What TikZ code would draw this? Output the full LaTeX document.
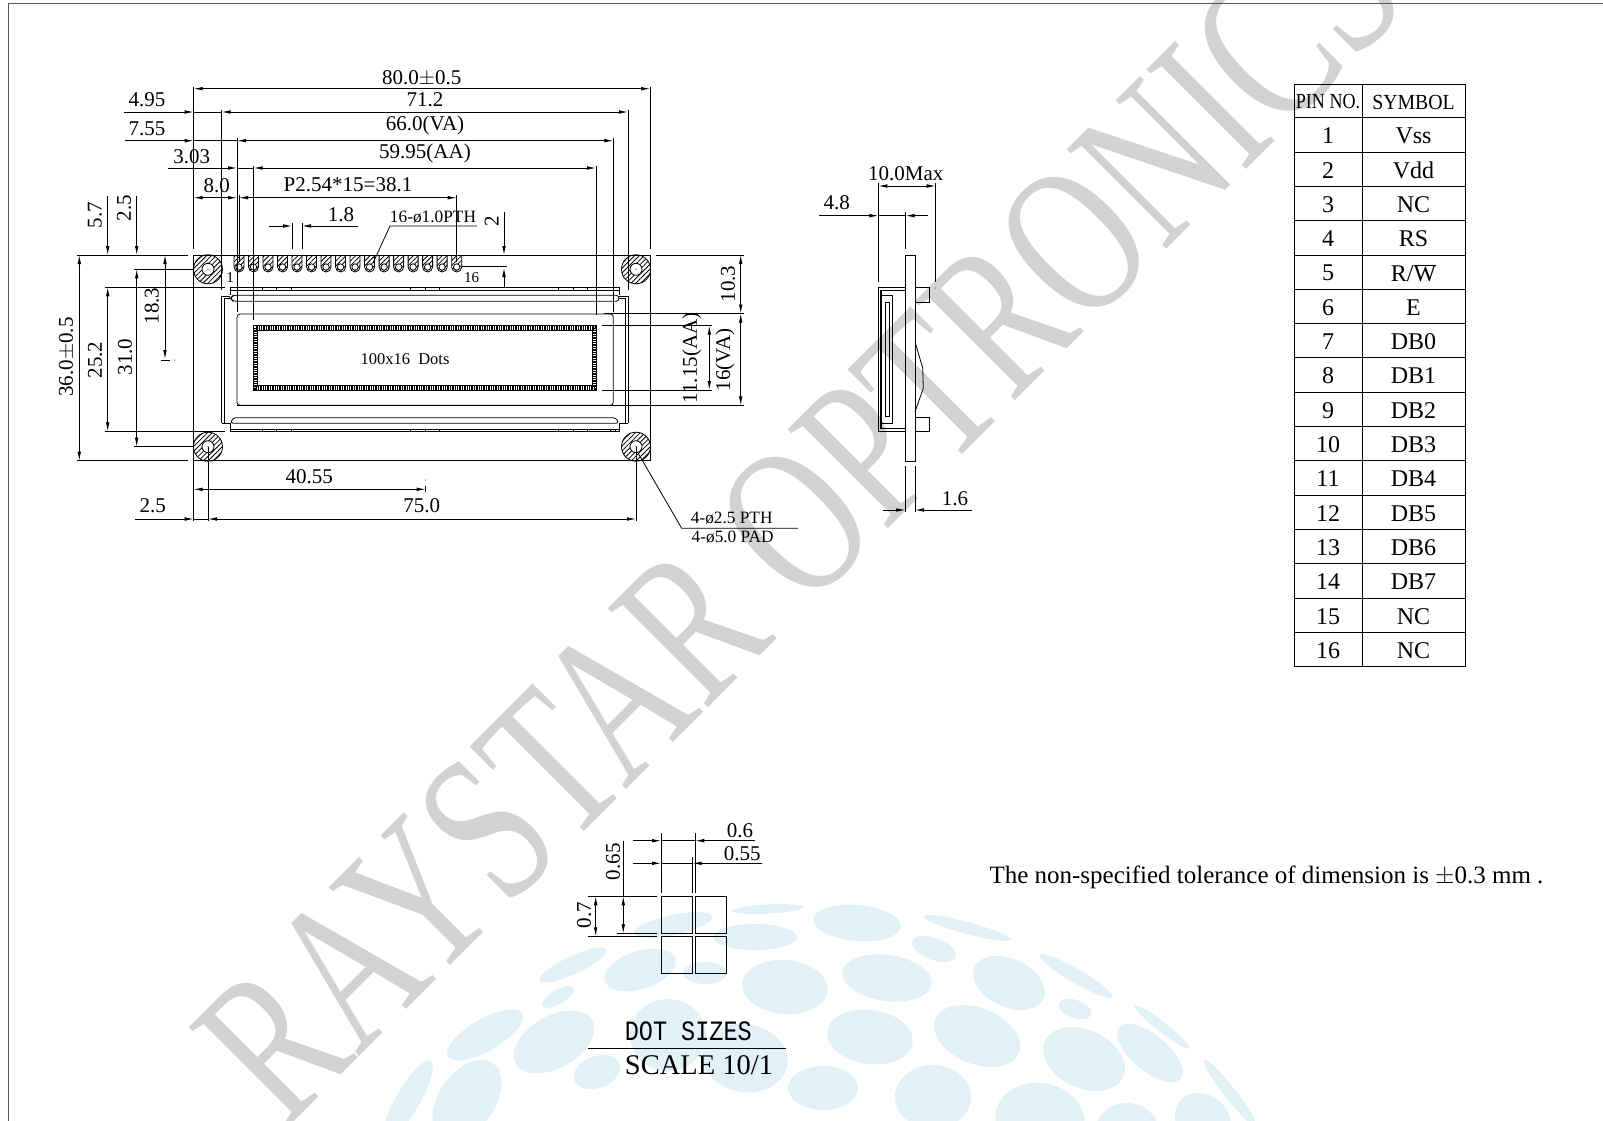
\documentclass[tikz,border=0pt]{standalone}
\usepackage{fontspec}
\setmainfont{Liberation Serif}
\newfontfamily\dotfont{Liberation Mono}
\usetikzlibrary{arrows.meta,patterns.meta,calc}
\definecolor{globeblue}{HTML}{E2F0F7}
\definecolor{markgray}{HTML}{D2D2D2}
\newcommand{\globespot}[5]{\fill[globeblue,shift={(#1,#2)},rotate=#5] (0,0) ellipse (#3 and #4);}

\begin{document}
\begin{tikzpicture}[x=1pt,y=-1pt,line width=.8pt,
    arr/.style={-{Latex[length=9pt,width=3.6pt]}},
    arrs/.style={{Latex[length=9pt,width=3.6pt]}-{Latex[length=9pt,width=3.6pt]}},
    lbl/.style={inner sep=0pt,font=\fontsize{21}{21}\selectfont},
    small/.style={inner sep=0pt,font=\fontsize{17.3}{18}\selectfont},
    cell/.style={inner sep=0pt,font=\fontsize{24}{24}\selectfont},
    hatch/.style={pattern={Lines[angle=45,distance=3.4pt,line width=.8pt]}}]
\useasboundingbox (0,0) rectangle (1603,1121);
% Globe
\foreach \gx/\gy/\grx/\gry/\gang in {768/909/36/4.5/3,755/937/42/13/0,673/925/40/10/12,573/965/37/9/25,
  640/970/37/19/18,705/973/22/11/0,785/987/43/27/-5,558/997/18/7/30,485/1035/43/16/30,554/1042/44/26/30,
  668/1035/38/36/0,745/1058/43/34/-10,597/1072/24/16/20,408/1100/45/12/60,467/1100/45/28/55,823/1088/35/22/0,
  870/1037/43/27/-8,857/923/44/18/-5,967/928/45/6/-15,934/949/23/11/-20,887/978/45/23/-8,1009/983/38/24/-25,
  1076/976/42/7/-30,1075/1009/17/9/-20,977/1036/45/28/-22,1084/1059/43/29/-25,1150/1053/40/18/-40,
  1162/1027/35/5/-38,1230/1093/42/6/-52,933/1097/38/32/0,1040/1120/45/37/-10,1127/1133/32/30/0,1203/1120/30/25/-40}
  {\globespot{\gx}{\gy}{\grx}{\gry}{\gang}}
% Watermark
\node[inner sep=0pt,text=markgray,rotate=45,font=\fontsize{215}{215}\selectfont] (mark) at (800,517)
  {\scalebox{.72}[1]{RAYSTAR OPTRONICS}};
% Frame
\draw[gray!70!black] (1603,3.5) -- (8,3.5) -- (8,1121);

% Board
\draw (193.7,255) rectangle (650,460.7);
\draw (77,255) -- (188,255) (655.7,255) -- (744,255);
\draw (77,460.7) -- (188,460.7);
% Mounting holes
\foreach \hx/\hy in {208/269.3,636/269.3,208/446.7,636/446.7}{
  \draw[hatch] (\hx,\hy) circle (14.5);
  \fill[white] (\hx,\hy) circle (6);
  \draw (\hx,\hy) circle (6);
  \fill (\hx,\hy) circle (.6);
}
% Pins
\foreach \i in {0,...,15}{
  \pgfmathsetmacro{\px}{239+14.51*\i}
  \draw[hatch] (\px-5,255.5) -- (\px+5,255.5) -- (\px+5,267) arc (0:180:5) -- cycle;
  \fill[white] (\px,267) circle (3.2);
  \draw (\px,267) circle (3.2);
}
% Bezels
\draw (221.7,423.3) -- (221.7,296) -- (231.7,296) (224.3,423.3) -- (224.3,298.5) -- (231.7,298.5);
\draw (628,423.3) -- (628,296) -- (618,296) (625,423.3) -- (625,298.5) -- (618,298.5);
\draw (221.7,423.3) -- (231,423.3) (618,423.3) -- (628,423.3);
\fill[white] (230.3,287.3) rectangle (619,301.3);
\fill[white] (230.3,417.7) rectangle (619,431.7);
\draw (230.3,295.3) -- (230.3,287.3) -- (619,287.3) -- (619,295.3);
\draw (230.3,290) -- (619,290);
\draw[rounded corners=3pt] (233,295.3) -- (619,295.3) -- (619,301.3) -- (233,301.3) -- (230.3,298.3) -- cycle;
\draw (230.3,423.3) -- (230.3,431.7) -- (619,431.7) -- (619,423.3);
\draw (230.3,429) -- (619,429);
\draw[rounded corners=3pt] (233,417.7) -- (616,417.7) -- (619,423.3) -- (230.3,423.3) -- cycle;
\foreach \tx in {262,276.7,291,410.7,425,439.3,558,573,587.7}{
  \draw (\tx,287.3) -- (\tx,290) (\tx,429) -- (\tx,431.7);
}
\draw (610,429) -- (610,431.7) (615,429) -- (615,431.7);
% VA and AA
\draw[rounded corners=3pt] (237,314) rectangle (613.3,405.3);
\draw[line width=4pt,dash pattern=on 1.4pt off 1pt] (255.5,327.8) rectangle (594.7,388);
\draw[line width=.7pt] (253.3,325.7) rectangle (596.7,390) (257.8,330) rectangle (592.3,385.8);
\node[small,font=\fontsize{16.5}{17}\selectfont] (dots) at (405,359) {100x16\ \ Dots};
\node[inner sep=0pt,font=\fontsize{15}{15}\selectfont] (pinA) at (230,277.7) {1};
\node[inner sep=0pt,font=\fontsize{15}{15}\selectfont] (pinP) at (471.7,277.7) {16};

% Extension lines, top
\draw (193.7,86.7) -- (193.7,249.3) (650,86.7) -- (650,249.3);
\draw (221.7,110) -- (221.7,290) (628,110) -- (628,290);
\draw (237,138) -- (237,312) (613.3,138) -- (613.3,312);
\draw (253.7,166) -- (253.7,320) (596,166) -- (596,315);
\draw (239,195) -- (239,262) (456.7,195) -- (456.7,262);
\draw (292,223) -- (292,249) (302,223) -- (302,249);
% Dimensions, top
\draw[arrs] (193.7,88.7) -- (650,88.7);
\draw[arr] (124,112) -- (193.7,112);
\draw (193.7,112) -- (221.7,112);
\draw[arrs] (221.7,112) -- (628,112);
\draw[arr] (125,140.7) -- (193.7,140.7);
\draw (193.7,140.7) -- (237,140.7);
\draw[arrs] (237,140.7) -- (613.3,140.7);
\draw[arr] (168,168) -- (237,168);
\draw (237,168) -- (253.7,168);
\draw[arrs] (253.7,168) -- (596,168);
\draw[arrs] (193.7,197.7) -- (237,197.7);
\draw[arrs] (239,197.7) -- (456.7,197.7);
\draw[arr] (269,226) -- (292,226);
\draw[arr] (358,226) -- (302,226);
\node[lbl] (wide) at (421.7,78) {80.0$\pm$0.5};
\node[lbl] (pcbw) at (425,100) {71.2};
\node[lbl] (vaw) at (425,125) {66.0(VA)};
\node[lbl] (aaw) at (425,153.7) {59.95(AA)};
\node[lbl] (pitch) at (348,185) {P2.54*15=38.1};
\node[lbl] (offa) at (147,100) {4.95};
\node[lbl] (offb) at (147,129) {7.55};
\node[lbl] (offc) at (191.7,156.7) {3.03};
\node[lbl] (offd) at (216.7,186) {8.0};
\node[lbl] (pinw) at (341,215) {1.8};
% Pin hole leader
\draw (373,263) -- (390,226) -- (477,226);
\node[small] (pth) at (433,217) {16-ø1.0PTH};
% Pin to edge
\draw[arr] (504,211.7) -- (504,255);
\draw[arr] (504,288) -- (504,268);
\draw (461.7,266.7) -- (506.7,266.7);
\node[lbl,rotate=90] (edge) at (491.7,221) {2};

% Dimensions, left
\draw[arr] (107.7,196) -- (107.7,255);
\draw[arr] (136.7,196) -- (136.7,255);
\draw (105,287.3) -- (225,287.3) (105,431.3) -- (225,431.3);
\draw (134,269.3) -- (193.7,269.3) (134,446.7) -- (193.7,446.7);
\draw[arrs] (79.3,255) -- (79.3,460.7);
\draw[arrs] (107.7,287.3) -- (107.7,431.3);
\draw[arrs] (136.7,269.3) -- (136.7,446.7);
\draw[arrs] (165,255) -- (165,359);
\draw (161,360) -- (170,360);
\fill (174.7,360) circle (.5);
\node[lbl,rotate=90] (high) at (66.7,357) {36.0$\pm$0.5};
\node[lbl,rotate=90] (holeh) at (95,360) {25.2};
\node[lbl,rotate=90] (pcbh) at (125,357) {31.0};
\node[lbl,rotate=90] (topa) at (95,215) {5.7};
\node[lbl,rotate=90] (topb) at (124,208) {2.5};
\node[lbl,rotate=90] (topc) at (151.7,306) {18.3};

% Dimensions, right
\draw (604,313.5) -- (744,313.5) (237,405.3) -- (744,405.3);
\draw (602,325.7) -- (711.7,325.7) (602,390) -- (711.7,390);
\draw[arrs] (740.7,255) -- (740.7,313.5);
\draw[arrs] (740.7,313.5) -- (740.7,405.3);
\draw[arrs] (709.3,325.7) -- (709.3,390);
\node[lbl,rotate=90] (topv) at (728,284) {10.3};
\node[lbl,rotate=90] (aah) at (691.7,358) {11.15(AA)};
\node[lbl,rotate=90] (vah) at (725,360) {16(VA)};

% Dimensions, bottom
\draw (193.7,460.7) -- (193.7,521) (208,446.7) -- (208,521) (636,446.7) -- (636,521);
\draw[arrs] (193.7,489.3) -- (425.7,489.3);
\draw (425.7,486) -- (425.7,492);
\fill (425.7,480) circle (.5);
\draw[arr] (135,519) -- (193.7,519);
\draw (193.7,519) -- (208,519);
\draw[arrs] (208,519) -- (636,519);
\node[lbl] (cen) at (309.3,477) {40.55};
\node[lbl] (marg) at (152.7,506) {2.5};
\node[lbl] (hole) at (421.7,506) {75.0};
% Hole leader
\draw (638,453) -- (681.7,528.3) -- (798,528.3);
\node[small] (ptha) at (731.7,518) {4-ø2.5 PTH};
\node[small] (pad) at (732.7,537.5) {4-ø5.0 PAD};

% Side view
\draw (905.3,255.3) rectangle (915,461);
\draw (915,287.7) -- (929.3,287.7) -- (929.3,302.3) -- (915,302.3);
\draw (915,417.3) -- (929.3,417.3) -- (929.3,431.7) -- (915,431.7);
\draw (905.3,287.5) -- (878.7,287.5) -- (878.7,431.7) -- (905.3,431.7);
\draw (905.3,290.3) -- (880.7,290.3) -- (880.7,428.3) -- (905.3,428.3);
\draw (881.7,295.7) rectangle (892.7,423.3);
\draw (881.7,290.5) -- (881.7,428);
\draw (885.3,302.7) rectangle (889.7,416);
\draw (915,341.7) -- (922.7,368) -- (923.3,388.3) -- (915,411.7);
\draw (878.3,183) -- (878.3,282.3) (935.7,183) -- (935.7,281.7);
\draw (905.7,212) -- (905.7,249);
\draw (905.3,466) -- (905.3,512) (915,466) -- (915,512);
\fill (935.7,288) circle (.5);
\draw[arrs] (878.3,186) -- (935.7,186);
\draw[arr] (819,215.7) -- (878.3,215.7);
\draw (878.3,215.7) -- (905.7,215.7);
\draw[arr] (928,215.7) -- (905.7,215.7);
\draw[arr] (883.3,510) -- (905.3,510);
\draw[arr] (972.3,510) -- (915,510);
\node[lbl] (maxw) at (905.7,174) {10.0Max};
\node[lbl] (glass) at (836.7,203) {4.8};
\node[lbl] (thick) at (955,499) {1.6};

% Pin table
\draw (1294,84) rectangle (1465,666.5);
\draw (1362,84) -- (1362,666.5);
\node[cell,font=\fontsize{21.5}{22}\selectfont] (pinno) at (1328,102) {\scalebox{.84}[1]{PIN NO.}};
\node[cell,font=\fontsize{21.5}{22}\selectfont] (symbol) at (1413.5,102) {\scalebox{.92}[1]{SYMBOL}};
\foreach \n/\s [count=\r from 0] in {1/Vss,2/Vdd,3/NC,4/RS,5/{R/$\overline{\mbox{W}}$},6/E,7/DB0,8/DB1,
  9/DB2,10/DB3,11/DB4,12/DB5,13/DB6,14/DB7,15/NC,16/NC}{
  \draw (1294,117.7+34.3*\r) -- (1465,117.7+34.3*\r);
  \node[cell] (pin\n) at (1328,136+34.3*\r) {\n};
  \node[cell] (sym\n) at (1413.5,136+34.3*\r) {\s};
}

% Dot sizes
\foreach \dx/\dy in {661/896.3,695.3/896.3,661/936.3,695.3/936.3}{
  \draw (\dx,\dy) rectangle (\dx+31.4,\dy+37.2);
}
\draw (661,833) -- (661,892.7) (695.3,833) -- (695.3,892.7) (692.7,856.7) -- (692.7,892.7);
\draw[arr] (632.7,840.7) -- (661,840.7);
\draw (661,840.7) -- (695.3,840.7);
\draw[arr] (755,840.7) -- (695.3,840.7);
\draw[arr] (632.7,863.3) -- (661,863.3);
\draw (661,863.3) -- (692.7,863.3);
\draw[arr] (762.3,863.3) -- (692.7,863.3);
\draw (623.3,840.7) -- (623.3,896.3);
\draw (588,896.3) -- (657.3,896.3) (588,936.3) -- (657.3,936.3) (616.7,933.3) -- (657.3,933.3);
\draw[arrs] (595.7,896.3) -- (595.7,936.3);
\draw[arrs] (623.3,896.3) -- (623.3,933.3);
\node[lbl] (wa) at (740,830.7) {0.6};
\node[lbl] (wb) at (742.3,853.3) {0.55};
\node[lbl,rotate=90] (hb) at (613,861.7) {0.65};
\node[lbl,rotate=90] (ha) at (584,915) {0.7};
\node[inner sep=0pt,font=\dotfont\fontsize{28}{28}\selectfont] (dottitle) at (688.3,1031.7) {\scalebox{.84}[1]{DOT SIZES}};
\draw (588.3,1048.3) -- (786,1048.3);
\node[inner sep=0pt,font=\fontsize{28.5}{28}\selectfont] (scale) at (699,1065) {SCALE 10/1};
% Note
\node[inner sep=0pt,font=\fontsize{25}{25}\selectfont] (note) at (1266.5,877) {The non-specified tolerance of dimension is $\pm$0.3 mm .};
\end{tikzpicture}
\end{document}
